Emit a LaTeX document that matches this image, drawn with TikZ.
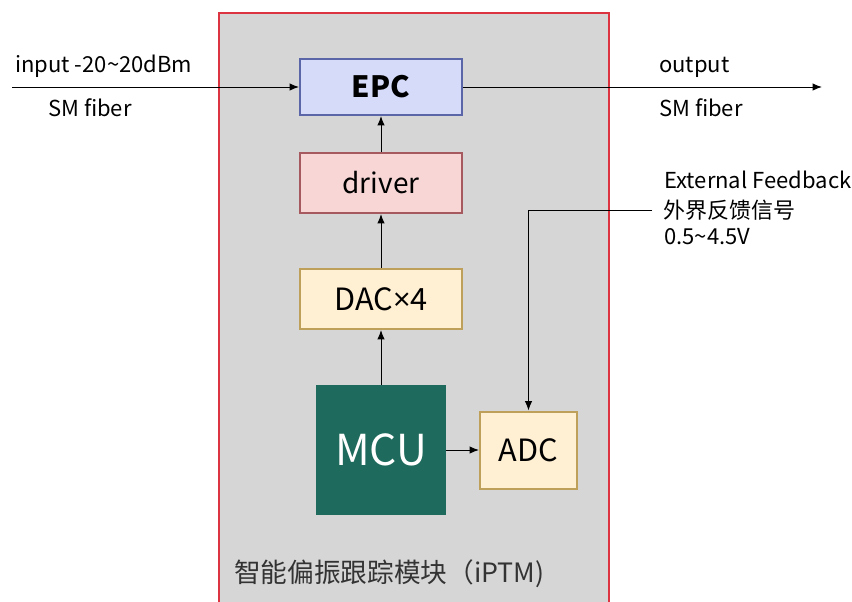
\documentclass[tikz,border=0pt]{standalone}
\usepackage{fontspec}
\setmainfont{Noto Sans CJK SC}
\newfontfamily\latinfont{Open Sans}
\usetikzlibrary{positioning,arrows.meta}
\definecolor{modgray}{HTML}{D6D6D6}
\definecolor{modred}{HTML}{DC3440}
\definecolor{epcfill}{HTML}{D5DBF8}
\definecolor{epcline}{HTML}{5A66A8}
\definecolor{drvfill}{HTML}{F8D6D6}
\definecolor{drvline}{HTML}{A65A60}
\definecolor{cvtfill}{HTML}{FFEFD3}
\definecolor{cvtline}{HTML}{BEA05A}
\definecolor{mcufill}{HTML}{1E6A5C}

\begin{document}
\begin{tikzpicture}[x=0.75pt, y=-0.75pt,
  blk/.style={draw, line width=1.5pt, inner sep=0pt, minimum width=121.5pt, minimum height=45pt},
  arr/.style={-{Latex[length=7pt,width=5.5pt]}, line width=0.75pt},
  lbl/.style={anchor=base west, inner sep=0pt, font=\fontsize{16.5}{19}\selectfont}]
  \useasboundingbox (0,0) rectangle (852,601);
  % module background
  \fill[modgray] (219,13) rectangle (609,606);
  \draw[modred, line width=1pt] (219,606) -- (219,13) -- (609,13) -- (609,606);
  \node[anchor=base west, inner sep=0pt, font=\fontsize{20}{24}\selectfont, text=black!80] (title) at (234,582) {智能偏振跟踪模块（iPTM)};
  % blocks
  \node[blk, fill=epcfill, draw=epcline, minimum height=42pt, font=\fontsize{22}{26}\selectfont\bfseries] (epc) at (381,87) {EPC};
  \node[blk, fill=drvfill, draw=drvline, font=\fontsize{21}{24}\selectfont] (drv) at (381,183) {driver};
  \node[blk, fill=cvtfill, draw=cvtline, font=\fontsize{23}{26}\selectfont] (dac) at (381,299) {DAC{\latinfont ×}4};
  \node[fill=mcufill, text=white, minimum size=97.5pt, inner sep=0pt, font=\fontsize{32}{36}\selectfont] (mcu) at (381,450) {MCU};
  \node[blk, fill=cvtfill, draw=cvtline, minimum width=72.75pt, minimum height=57.75pt, font=\fontsize{23}{26}\selectfont] (adc) at (528.5,450) {ADC};
  % texts
  \node[lbl] (inlbl) at (15,72) {input -20\textasciitilde20dBm};
  \node[lbl] (infib) at (48,116) {SM fiber};
  \node[lbl] (outlbl) at (659,72) {output};
  \node[lbl] (outfib) at (659,116) {SM fiber};
  \node[lbl] (fbtxt) at (664,188) {External Feedback};
  \node[anchor=west, inner sep=0pt, font=\fontsize{16.5}{19}\selectfont] (fbcn) at (663,210) {外界反馈信号};
  \node[lbl] (fbvolt) at (664,244) {0.5\textasciitilde4.5V};
  \coordinate (in) at (12,87);
  \coordinate (out) at (822,87);
  \coordinate (fb) at (652,210);
  % connectors
  \draw[arr] (in) -- (epc);
  \draw[arr] (epc) -- (out);
  \draw[arr] (drv) -- (epc);
  \draw[arr] (dac) -- (drv);
  \draw[arr] (mcu) -- (dac);
  \draw[arr] (mcu) -- (adc);
  \draw[arr] (fb) -| (adc);
\end{tikzpicture}
\end{document}
